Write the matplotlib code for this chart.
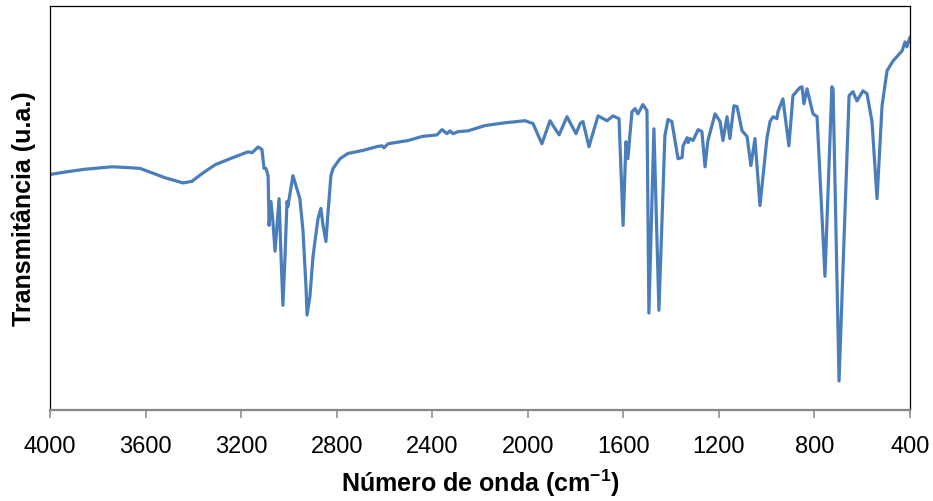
import matplotlib
matplotlib.use("Agg")
import matplotlib.pyplot as plt

# IR spectrum (wavenumber in cm-1, transmittance in arbitrary units 0-100)
wavenumber = [
    4000, 3937, 3853, 3740, 3673, 3623, 3573, 3519, 3443, 3406, 3364, 3309,
    3238, 3171, 3154, 3129, 3113, 3104, 3096, 3087, 3083, 3075, 3067, 3058,
    3041, 3033, 3025, 3016, 3008, 3004, 3000, 2983, 2954, 2941, 2928, 2924,
    2912, 2899, 2891, 2878, 2866, 2857, 2845, 2836, 2824, 2815, 2786, 2753,
    2694, 2631, 2610, 2602, 2585, 2501, 2443, 2380, 2359, 2338, 2326, 2313,
    2292, 2250, 2179, 2095, 2012, 1978, 1941, 1907, 1869, 1836, 1798, 1781,
    1769, 1744, 1706, 1668, 1643, 1618, 1601, 1589, 1581, 1564, 1551, 1539,
    1518, 1501, 1493, 1472, 1451, 1426, 1413, 1397, 1371, 1354, 1350, 1333,
    1329, 1321, 1308, 1287, 1271, 1258, 1246, 1216, 1195, 1183, 1166, 1154,
    1137, 1124, 1103, 1082, 1066, 1049, 1028, 999, 986, 973, 957, 953,
    932, 907, 890, 861, 852, 844, 831, 806, 789, 756, 727, 722,
    697, 655, 639, 622, 597, 580, 559, 538, 517, 496, 471, 433,
    421, 413, 400,
]
transmittance = [
    58.3, 58.9, 59.6, 60.2, 60.0, 59.8, 58.7, 57.5, 56.2, 56.6, 58.5, 60.7,
    62.4, 63.9, 63.7, 65.1, 64.5, 59.8, 59.8, 58.0, 45.7, 51.6, 46.7, 39.3,
    52.3, 38.3, 25.9, 38.3, 51.6, 50.4, 51.9, 58.0, 52.3, 44.4, 30.0, 23.5,
    28.1, 38.0, 41.7, 47.4, 49.9, 45.7, 41.7, 49.1, 58.0, 59.8, 62.2, 63.5,
    64.2, 65.2, 65.4, 64.9, 65.9, 66.7, 67.7, 68.1, 69.4, 68.4, 69.1, 68.4,
    68.9, 69.1, 70.4, 71.1, 71.6, 70.9, 65.9, 71.6, 68.1, 72.6, 68.4, 70.9,
    71.4, 65.2, 72.8, 71.6, 72.8, 72.1, 45.7, 66.4, 62.2, 73.8, 74.6, 73.3,
    75.6, 74.1, 24.0, 69.6, 24.7, 67.9, 71.9, 71.4, 62.2, 62.5, 65.4, 67.4,
    66.2, 67.2, 66.7, 69.4, 68.9, 60.2, 66.7, 73.3, 71.4, 66.7, 72.6, 67.2,
    75.3, 75.1, 69.1, 67.7, 60.5, 67.2, 50.6, 67.2, 71.4, 72.6, 72.1, 73.8,
    77.0, 65.4, 77.8, 79.8, 80.0, 75.8, 79.5, 73.3, 72.6, 33.1, 80.0, 79.5,
    7.2, 77.8, 78.8, 76.5, 79.0, 78.3, 71.3, 52.3, 75.3, 84.0, 86.4, 88.9,
    91.1, 89.9, 92.3,
]

xticks = [4000, 3600, 3200, 2800, 2400, 2000, 1600, 1200, 800, 400]

plt.rcParams["font.family"] = ["Liberation Sans", "DejaVu Sans"]
plt.rcParams["mathtext.fontset"] = "custom"
plt.rcParams["mathtext.rm"] = "Liberation Sans:bold"
plt.rcParams["mathtext.bf"] = "Liberation Sans:bold"

fig = plt.figure(figsize=(9.33, 5.02), dpi=100)
ax = fig.add_axes([50 / 933, 1 - 411 / 502, 860 / 933, 404 / 502])

ax.plot(wavenumber, transmittance, color="#4a7ebb", lw=2.3,
        solid_joinstyle="round", solid_capstyle="round")

ax.set_xlim(4000, 400)
ax.set_ylim(0, 100)
ax.set_xticks(xticks)
ax.set_xticklabels([str(t) for t in xticks], fontsize=17)
ax.set_yticks([])

for side in ("left", "top", "right"):
    ax.spines[side].set_color("black")
    ax.spines[side].set_linewidth(0.9)
ax.spines["bottom"].set_color("#868686")
ax.spines["bottom"].set_linewidth(1.6)
ax.tick_params(axis="x", direction="out", length=5.8, width=1.1,
               color="#868686", pad=12, labelcolor="black")

ax.set_xlabel(r"Número de onda (cm$^{-1}$)", fontweight="bold",
              fontsize=18, labelpad=7)
ax.set_ylabel("Transmitância (u.a.)", fontweight="bold",
              fontsize=18, labelpad=10)

fig.savefig("out.png", dpi=100)
